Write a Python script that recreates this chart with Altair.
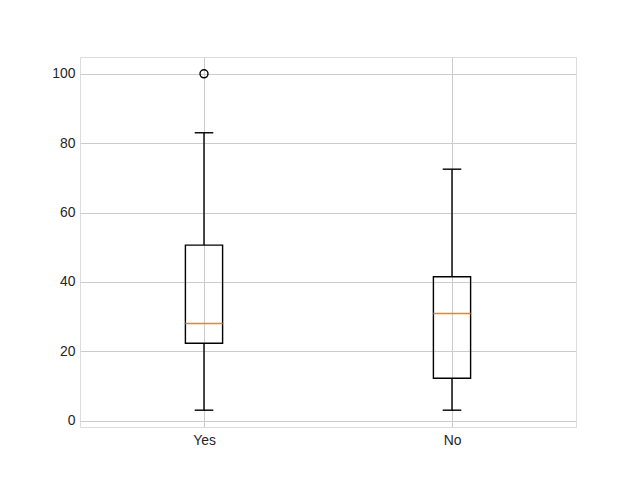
import altair as alt
import pandas as pd

groups = ["Yes", "No"]
positions = [1, 2]
whisker_low = [3.0, 3.0]
q1 = [22.3, 12.2]
median = [28.0, 30.9]
q3 = [50.6, 41.5]
whisker_high = [83.0, 72.5]
outlier_group = ["Yes"]
outlier_pos = [1]
outlier_val = [100.0]

df = pd.DataFrame({
    "group": groups, "pos": positions, "low": whisker_low, "q1": q1,
    "median": median, "q3": q3, "high": whisker_high,
})
out = pd.DataFrame({"group": outlier_group, "pos": outlier_pos, "val": outlier_val})

xscale = alt.Scale(domain=[0.5, 2.5], nice=False, zero=False)
yscale = alt.Scale(domain=[-1.85, 104.85], nice=False, zero=False)

label_expr = " : ".join(
    [f"datum.value == {p} ? '{g}'" for p, g in zip(positions, groups)]
) + " : ''"

xaxis = alt.Axis(values=positions, labelExpr=label_expr, title=None, grid=True,
                 ticks=False, domain=False, labelPadding=6, gridColor="#cccccc",
                 gridWidth=1, labelFontSize=13.9, labelColor="#262626",
                 labelFont="Liberation Sans")
yaxis = alt.Axis(values=[0, 20, 40, 60, 80, 100], title=None, grid=True,
                 ticks=False, domain=False, labelPadding=5, gridColor="#cccccc",
                 gridWidth=1, labelFontSize=13.9, labelColor="#262626",
                 labelFont="Liberation Sans")

SW = 1.4

base = alt.Chart(df).transform_calculate(
    bl="datum.pos - 0.075", br="datum.pos + 0.075",
    cl="datum.pos - 0.0375", cr="datum.pos + 0.0375",
)

box = base.mark_rect(fill=None, stroke="black", strokeWidth=SW).encode(
    x=alt.X("bl:Q", scale=xscale, axis=xaxis), x2="br:Q",
    y=alt.Y("q1:Q", scale=yscale, axis=yaxis), y2="q3:Q",
)
wl = base.mark_rule(color="black", strokeWidth=SW).encode(
    x=alt.X("pos:Q", scale=xscale), y=alt.Y("low:Q", scale=yscale), y2="q1:Q")
wh = base.mark_rule(color="black", strokeWidth=SW).encode(
    x=alt.X("pos:Q", scale=xscale), y=alt.Y("q3:Q", scale=yscale), y2="high:Q")
capl = base.mark_rule(color="black", strokeWidth=SW).encode(
    x=alt.X("cl:Q", scale=xscale), x2="cr:Q", y=alt.Y("low:Q", scale=yscale))
caph = base.mark_rule(color="black", strokeWidth=SW).encode(
    x=alt.X("cl:Q", scale=xscale), x2="cr:Q", y=alt.Y("high:Q", scale=yscale))
med = base.mark_rule(color="#ff7f0e", strokeWidth=SW).encode(
    x=alt.X("bl:Q", scale=xscale), x2="br:Q", y=alt.Y("median:Q", scale=yscale))
fl = alt.Chart(out).mark_point(shape="circle", filled=False, color="black",
                                size=64, strokeWidth=SW, opacity=1).encode(
    x=alt.X("pos:Q", scale=xscale), y=alt.Y("val:Q", scale=yscale))

chart = alt.layer(box, wl, wh, capl, caph, med, fl).properties(
    width=496, height=370,
    autosize=alt.AutoSizeParams(type="none"),
    padding={"left": 72, "top": 49, "right": 56, "bottom": 45},
).configure_view(stroke="#cccccc", strokeWidth=1.25).configure(background="white")

chart.save("out.html", embed_options={"renderer": "svg", "actions": False})
